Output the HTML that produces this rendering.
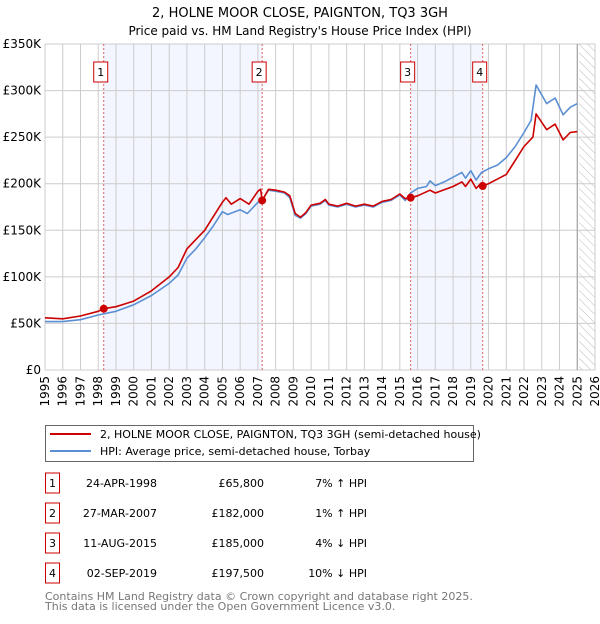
<!DOCTYPE html>
<html><head><meta charset="utf-8"><style>
body{margin:0;background:#fff;font-family:"DejaVu Sans","Liberation Sans",sans-serif;}
svg text{font-family:"DejaVu Sans","Liberation Sans",sans-serif;}
</style></head><body>
<svg id="chart" width="600" height="620" xmlns="http://www.w3.org/2000/svg">
<defs><pattern id="hatch" width="6" height="6" patternUnits="userSpaceOnUse" patternTransform="rotate(-45)"><line x1="0" y1="0" x2="0" y2="6" stroke="#bbb" stroke-width="1"/></pattern></defs>
<text x="300" y="17" text-anchor="middle" font-size="13">2, HOLNE MOOR CLOSE, PAIGNTON, TQ3 3GH</text>
<text x="300" y="35" text-anchor="middle" font-size="12">Price paid vs. HM Land Registry's House Price Index (HPI)</text>
<g id="plot"></g>
<g>
<rect x="45.5" y="425.5" width="428" height="36" fill="#fff" stroke="#666"/>
<line x1="50" y1="434" x2="91" y2="434" stroke="#cc0000" stroke-width="2"/>
<text x="100" y="438" font-size="11">2, HOLNE MOOR CLOSE, PAIGNTON, TQ3 3GH (semi-detached house)</text>
<line x1="50" y1="451" x2="91" y2="451" stroke="#5b8fd4" stroke-width="2"/>
<text x="100" y="455" font-size="11">HPI: Average price, semi-detached house, Torbay</text>
</g>
<g id="table" font-size="11"></g>
<text x="45" y="600" font-size="11" fill="#777">Contains HM Land Registry data © Crown copyright and database right 2025.</text>
<text x="45" y="610" font-size="11" fill="#777">This data is licensed under the Open Government Licence v3.0.</text>
</svg>
<script>
const hpiYears=[1995,1996,1997,1998,1999,2000,2001,2002,2002.5,2003,2003.5,2004,2004.5,2005,2005.3,2006,2006.4,2007,2007.3,2007.6,2008,2008.5,2008.8,2009.1,2009.4,2009.7,2010,2010.5,2010.8,2011,2011.5,2012,2012.5,2013,2013.5,2014,2014.5,2015,2015.3,2015.6,2016,2016.5,2016.7,2017,2017.5,2018,2018.5,2018.7,2019,2019.3,2019.6,2020,2020.5,2021,2021.5,2022,2022.4,2022.68,2023.28,2023.75,2024.2,2024.6,2025];
const hpiValues=[52,52,54,59,63,70,80,93,102,120,130,142,155,170,167,172,168,180,184,193,192,190,185,166,163,168,176,178,182,177,175,178,175,177,175,180,182,188,182,190,195,197,203,198,202,207,212,206,214,204,212,216,220,228,240,255,268,306,286,292,274,282,286];
const ppYears=[1995,1996,1997,1998,1998.31,1999,2000,2001,2002,2002.5,2003,2003.5,2004,2004.5,2005,2005.2,2005.5,2006,2006.5,2007,2007.15,2007.24,2007.6,2008,2008.5,2008.8,2009.1,2009.4,2009.7,2010,2010.5,2010.8,2011,2011.5,2012,2012.5,2013,2013.5,2014,2014.5,2015,2015.3,2015.61,2016,2016.7,2017,2018,2018.5,2018.7,2019,2019.3,2019.6,2019.67,2020,2020.5,2021,2021.5,2022,2022.5,2022.68,2023.28,2023.75,2024.2,2024.6,2025];
const ppValues=[56,55,58,63,65.8,68,74,85,100,110,130,140,150,165,180,185,178,184,178,192,194,182,194,193,191,187,168,164,169,177,179,183,178,176,179,176,178,176,181,183,189,184,185,187,193,190,197,202,197,205,195,201,197.5,200,205,210,225,240,250,275,258,264,247,255,256];
const saleYears=[1998.31,2007.24,2015.61,2019.67];
const saleValues=[65.8,182,185,197.5];
const saleLabels=["1","2","3","4"];
const saleDates=["24-APR-1998","27-MAR-2007","11-AUG-2015","02-SEP-2019"];
const salePrices=["£65,800","£182,000","£185,000","£197,500"];
const saleDiffs=["7% ↑ HPI","1% ↑ HPI","4% ↓ HPI","10% ↓ HPI"];
const yTicks=[0,50,100,150,200,250,300,350];
const yTickLabels=["£0","£50K","£100K","£150K","£200K","£250K","£300K","£350K"];
const xTicks=[1995,1996,1997,1998,1999,2000,2001,2002,2003,2004,2005,2006,2007,2008,2009,2010,2011,2012,2013,2014,2015,2016,2017,2018,2019,2020,2021,2022,2023,2024,2025,2026];

const X0=45,X1=595,Y0=370,Y1=44;
const x=y=>X0+(y-1995)*(X1-X0)/31;
const yv=v=>Y0-v*(Y0-Y1)/350;
const NS="http://www.w3.org/2000/svg";
const plot=document.getElementById('plot');
function mk(tag,attrs,parent){const e=document.createElementNS(NS,tag);for(const k in attrs)e.setAttribute(k,attrs[k]);(parent||plot).appendChild(e);return e;}

let bg=mk('rect',{x:X0,y:Y1,width:X1-X0,height:Y0-Y1,fill:'#fff'});


for(let i=0;i<saleYears.length;i+=2){
  let r=mk('rect',{x:x(saleYears[i]),y:Y1,width:x(saleYears[i+1])-x(saleYears[i]),height:Y0-Y1,fill:'#f3f6fe'});
  
  
}
let h=mk('rect',{x:x(2025.1),y:Y1,width:X1-x(2025.1),height:Y0-Y1,fill:'url(#hatch)'});


xTicks.forEach(t=>{
  let l=mk('line',{x1:x(t),x2:x(t),y1:Y1,y2:Y0,stroke:'#ccc','stroke-width':1});
  
  
  let tx=mk('text',{x:0,y:0,'font-size':12,'text-anchor':'end',transform:`translate(${x(t)+4},${Y0+6}) rotate(-90)`});
  tx.textContent=t;
  
  
});
yTicks.forEach((t,i)=>{
  let l=mk('line',{x1:X0,x2:X1,y1:yv(t),y2:yv(t),stroke:'#ccc','stroke-width':1});
  
  
  let tx=mk('text',{x:X0-4,y:yv(t)+4,'font-size':12,'text-anchor':'end'});
  tx.textContent=yTickLabels[i];
  
  
});
let el=mk('line',{x1:x(2025),x2:x(2025),y1:Y1,y2:Y0,stroke:'#999','stroke-width':1});


saleYears.forEach((s,i)=>{
  let l=mk('line',{x1:x(s),x2:x(s),y1:Y1,y2:Y0,stroke:'#e06060','stroke-width':1,'stroke-dasharray':'2,2'});
  
  
  let g=mk('g',{});
  
  
  mk('rect',{x:x(s)-10,y:62,width:14,height:20,fill:'#fff',stroke:'#cc0000'},g);
  let t=mk('text',{x:x(s)-3,y:76,'font-size':11,'text-anchor':'middle'},g);
  t.textContent=saleLabels[i];
});
function path(xs,vs,color,name){
  let d=xs.map((t,i)=>(i?'L':'M')+x(t).toFixed(1)+','+yv(vs[i]).toFixed(1)).join('');
  let p=mk('path',{d:d,fill:'none',stroke:color,'stroke-width':1.6,'stroke-linejoin':'round'});
  
  
}
path(hpiYears,hpiValues,'#5b8fd4','hpi-line');
path(ppYears,ppValues,'#cc0000','price-paid-line');
saleYears.forEach((s,i)=>{
  let c=mk('circle',{cx:x(s),cy:yv(saleValues[i]),r:4,fill:'#cc0000'});
  
  
});
const tbl=document.getElementById('table');
const rowY=[483,513,543,573];
saleLabels.forEach((lb,i)=>{
  let g=mk('g',{},tbl);
  
  
  mk('rect',{x:45.5,y:rowY[i]-10,width:14,height:20,fill:'#fff',stroke:'#cc0000'},g);
  let a=mk('text',{x:52.5,y:rowY[i]+4,'text-anchor':'middle'},g);a.textContent=lb;
  let b=mk('text',{x:157,y:rowY[i]+4,'text-anchor':'end'},g);b.textContent=saleDates[i];
  let c=mk('text',{x:264,y:rowY[i]+4,'text-anchor':'end'},g);c.textContent=salePrices[i];
  let d=mk('text',{x:367,y:rowY[i]+4,'text-anchor':'end'},g);d.textContent=saleDiffs[i];
});
</script>
</body></html>
